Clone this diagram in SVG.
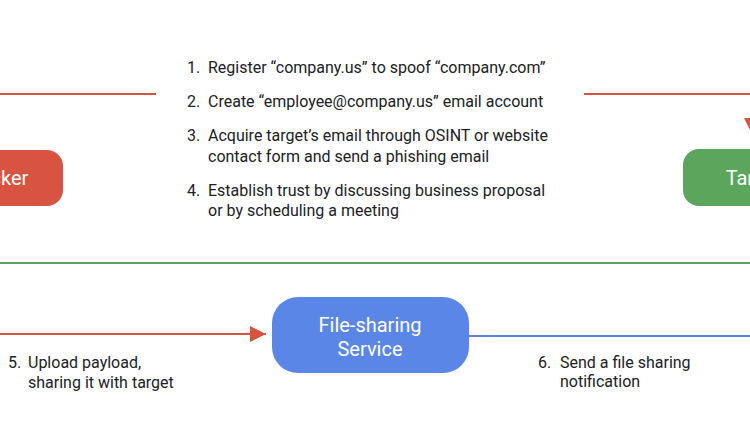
<svg xmlns="http://www.w3.org/2000/svg" width="750" height="440" viewBox="0 0 750 440">
<defs>
<style>
.t{font-family:Roboto,"Liberation Sans",sans-serif;font-size:16px;fill:#202124}
.n{font-family:Roboto,"Liberation Sans",sans-serif;font-size:20px;fill:#ffffff;text-anchor:middle}
.red{stroke:#d65440;stroke-width:2;fill:none}
</style>
<marker id="arBig" viewBox="0 0 10 10" refX="10" refY="5" markerWidth="16" markerHeight="16" markerUnits="userSpaceOnUse" orient="auto">
<path d="M0,0 L10,5 L0,10 z" fill="#d65440"/>
</marker>
</defs>
<rect width="750" height="440" fill="#ffffff"/>
<g id="connectors">
<line x1="0" y1="94" x2="156" y2="94" class="red"/>
<path d="M584,94 H752 V134" class="red" marker-end="url(#arBig)"/>
<line x1="0" y1="263" x2="750" y2="263" stroke="#5ba55c" stroke-width="2"/>
<line x1="0" y1="334" x2="266" y2="334" class="red" marker-end="url(#arBig)"/>
<line x1="469" y1="336" x2="750" y2="336" stroke="#5a7fd6" stroke-width="2"/>
</g>
<g id="attacker">
<rect x="-80" y="150" width="143" height="56" rx="16" fill="#d65440"/>
<text class="n" x="-9" y="185">Attacker</text>
</g>
<g id="target">
<rect x="683" y="149" width="142" height="57" rx="16" fill="#5ba55c"/>
<text class="n" x="754" y="185">Target</text>
</g>
<g id="file-sharing">
<rect x="272" y="297" width="197" height="76" rx="26" fill="#5a86e8"/>
<text class="n" x="370" y="332">File-sharing</text>
<text class="n" x="370" y="356">Service</text>
</g>
<g id="steps">
<text class="t" x="187" y="73">1.</text>
<text class="t" x="208" y="73">Register “company.us” to spoof “company.com”</text>
<text class="t" x="187" y="107">2.</text>
<text class="t" x="208" y="107">Create “employee@company.us” email account</text>
<text class="t" x="187" y="141">3.</text>
<text class="t" x="208" y="141">Acquire target’s email through OSINT or website</text>
<text class="t" x="208" y="162">contact form and send a phishing email</text>
<text class="t" x="187" y="196">4.</text>
<text class="t" x="208" y="196">Establish trust by discussing business proposal</text>
<text class="t" x="208" y="216">or by scheduling a meeting</text>
<text class="t" x="8" y="368">5.</text>
<text class="t" x="28" y="368">Upload payload,</text>
<text class="t" x="28" y="388">sharing it with target</text>
<text class="t" x="538" y="368">6.</text>
<text class="t" x="560" y="368">Send a file sharing</text>
<text class="t" x="560" y="387">notification</text>
</g>
</svg>
